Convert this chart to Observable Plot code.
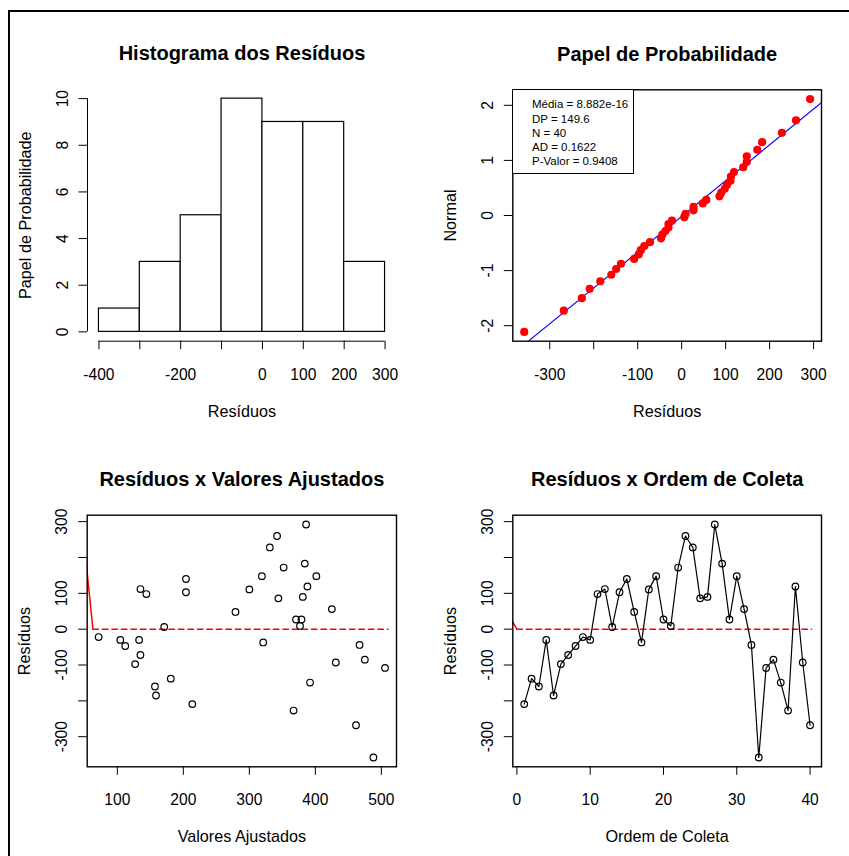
<!DOCTYPE html>
<html><head><meta charset="utf-8">
<script src="https://cdn.jsdelivr.net/npm/d3@7"></script>
<script src="https://cdn.jsdelivr.net/npm/@observablehq/plot@0.6"></script>
<style>
html,body{margin:0;padding:0;background:#fff;}
#page{position:relative;width:849px;height:856px;overflow:hidden;font-family:"Liberation Sans",Arial,sans-serif;background:#fff;}
.panel{position:absolute;}
#border{position:absolute;left:8px;top:10px;width:1000px;height:1000px;border-left:2px solid #000;border-top:2px solid #000;z-index:5;pointer-events:none;}
#legenda{position:absolute;left:512.3px;top:89.3px;width:121.4px;height:84.4px;box-sizing:border-box;border:1.3px solid #000;background:#fff;z-index:4;padding:7.2px 0 0 18.7px;font-size:11.5px;line-height:14.25px;color:#000;white-space:nowrap;}
</style></head><body>
<div id="page"><div id="border"></div></div>
<script>
// ---- data ----
const residuos = [-209,-138,-160,-30,-185,-97.5,-72,-47,-22,-30,98,112,6,103,140,48,-37,111,148,27,9,172,260,228,86,90,292,183,27,148,56,-44,-358,-108,-85,-149,-227,119,-93,-268];
const ajustados = [213.6,181,157,104.5,158.6,127,135,112,71.7,133,144,135,171,204,204,279,321,300,319,370.7,376.8,352,342,331,344,381,386,384,379,401.5,425,467,488,505.6,475,392,367,388,431,461.6];
const histBreaks = [-400,-300,-200,-100,0,100,200,300];
const histXLabels = ["-400","","-200","","0","100","200","300"];
const histYTicks = [0,2,4,6,8,10];
const histYLabels = ["0","2","4","6","8","10"];
const qqXTicks = [-300,-200,-100,0,100,200,300];
const qqXLabels = ["-300","","-100","0","100","200","300"];
const qqYTicks = [-2,-1,0,1,2];
const qqYLabels = ["-2","-1","0","1","2"];
const resYTicks = [-300,-200,-100,0,100,200,300];
const resYLabels = ["-300","","-100","0","100","","300"];
const ajXTicks = [100,200,300,400,500];
const ajXLabels = ["100","200","300","400","500"];
const ordXTicks = [0,10,20,30,40];
const ordXLabels = ["0","10","20","30","40"];
const legendaTextos = ["Média = 8.882e-16","DP = 149.6","N = 40","AD = 0.1622","P-Valor = 0.9408"];
// red reference lines (zero line with short solid lead-in)
const zeroAjust = [{x:63,y:0},{x:510,y:0}];
const inicioAjust = [{x:48,y:272},{x:63,y:0}];
const zeroOrdem = [{x:0,y:0},{x:40.2,y:0}];
const inicioOrdem = [{x:-1,y:35},{x:0,y:0}];

// ---- helpers ----
function qnorm(p){
  const a=[-3.969683028665376e+01,2.209460984245205e+02,-2.759285104469687e+02,1.383577518672690e+02,-3.066479806614716e+01,2.506628277459239e+00];
  const b=[-5.447609879822406e+01,1.615858368580409e+02,-1.556989798598866e+02,6.680131188771972e+01,-1.328068155288572e+01];
  const c=[-7.784894002430293e-03,-3.223964580411365e-01,-2.400758277161838e+00,-2.549732539343734e+00,4.374664141464968e+00,2.938163982698783e+00];
  const d=[7.784695709041462e-03,3.224671290700398e-01,2.445134137142996e+00,3.754408661907416e+00];
  const pl=0.02425, ph=1-pl; let q,r;
  if(p<pl){q=Math.sqrt(-2*Math.log(p));return (((((c[0]*q+c[1])*q+c[2])*q+c[3])*q+c[4])*q+c[5])/((((d[0]*q+d[1])*q+d[2])*q+d[3])*q+1);}
  if(p<=ph){q=p-0.5;r=q*q;return (((((a[0]*r+a[1])*r+a[2])*r+a[3])*r+a[4])*r+a[5])*q/(((((b[0]*r+b[1])*r+b[2])*r+b[3])*r+b[4])*r+1);}
  q=Math.sqrt(-2*Math.log(1-p));return -(((((c[0]*q+c[1])*q+c[2])*q+c[3])*q+c[4])*q+c[5])/((((d[0]*q+d[1])*q+d[2])*q+d[3])*q+1);
}
const pad4 = ([lo,hi]) => [lo-(hi-lo)*0.04, hi+(hi-lo)*0.04];

const n = residuos.length;
const dados = residuos.map((r,i)=>({ordem:i+1, residuo:r, ajustado:ajustados[i]}));
const ordenados = residuos.slice().sort((a,b)=>a-b);
const qq = ordenados.map((x,i)=>({x, y:qnorm((i+1-0.3)/(n+0.4))}));
const mx = d3.mean(qq,d=>d.x), my = d3.mean(qq,d=>d.y);
const slope = d3.sum(qq,d=>(d.x-mx)*(d.y-my))/d3.sum(qq,d=>(d.x-mx)**2);
const intercept = my - slope*mx;

const bins = d3.bin().domain([histBreaks[0], histBreaks.at(-1)]).thresholds(histBreaks)(residuos)
  .filter(b=>b.x0<b.x1).map(b=>({x0:b.x0,x1:b.x1,count:b.length}));

const FONT = '"Liberation Sans", Arial, sans-serif';
const page = document.getElementById("page");

function painel({left, top, width, height, margin, xDomain, yDomain, xTicks, xLabels, yTicks, yLabels, titulo, tituloX, tituloY, marcas, caixa}){
  const [mt, mr, mb, ml] = margin;
  const fs = 15.6;
  const centro = {textAnchor: "middle", lineAnchor: "middle", fill: "black"};
  const svg = Plot.plot({
    width, height, marginTop: mt, marginRight: mr, marginBottom: mb, marginLeft: ml,
    style: {background: "transparent", fontFamily: FONT, color: "black", overflow: "visible"},
    x: {domain: xDomain, label: null},
    y: {domain: yDomain, label: null},
    marks: [
      ...marcas,
      caixa ? Plot.frame({stroke: "black", strokeWidth: 1.4}) : null,
      Plot.axisX({ticks: xTicks, tickSize: 8.5, tickFormat: () => "", label: null, stroke: "black", strokeWidth: 1}),
      Plot.axisY({ticks: yTicks, tickSize: 8.5, tickFormat: () => "", label: null, stroke: "black", strokeWidth: 1}),
      Plot.text(xTicks, {x: d=>d, text: (d,i)=>xLabels[i], frameAnchor: "bottom", dy: 33.5, fontSize: fs, ...centro}),
      Plot.text(yTicks, {y: d=>d, text: (d,i)=>yLabels[i], frameAnchor: "left", dx: -25, rotate: -90, fontSize: fs, ...centro}),
      Plot.text([titulo], {text: d=>d, frameAnchor: "top", dy: -35.3, fontSize: 20, fontWeight: "bold", ...centro}),
      Plot.text([tituloX], {text: d=>d, frameAnchor: "bottom", dy: 70.5, fontSize: 16.2, ...centro}),
      Plot.text([tituloY], {text: d=>d, frameAnchor: "left", dx: -62, rotate: -90, fontSize: 16.2, ...centro})
    ]
  });
  const div = document.createElement("div");
  div.className = "panel";
  div.style.left = left + "px"; div.style.top = top + "px";
  div.appendChild(svg);
  page.appendChild(div);
}

// Panel 1: histogram
const hx = pad4([histBreaks[0], histBreaks.at(-1)]);
const hy = pad4([histYTicks[0], histYTicks.at(-1)]);
painel({
  left: 0, top: 0, width: 425, height: 428, margin: [88.8, 29, 87.3, 87],
  xDomain: hx, yDomain: hy,
  xTicks: histBreaks, xLabels: histXLabels, yTicks: histYTicks, yLabels: histYLabels,
  titulo: "Histograma dos Resíduos", tituloX: "Resíduos", tituloY: "Papel de Probabilidade",
  caixa: false,
  marcas: [
    Plot.rectY(bins, {x1: "x0", x2: "x1", y1: () => 0, y2: "count", fill: "white", stroke: "black", strokeWidth: 1.2, inset: 0}),
    Plot.ruleY([hy[0]], {y: d=>d, x1: () => histBreaks[0], x2: () => histBreaks.at(-1), stroke: "black", strokeWidth: 1}),
    Plot.ruleX([hx[0]], {x: d=>d, y1: () => histYTicks[0], y2: () => histYTicks.at(-1), stroke: "black", strokeWidth: 1})
  ]
});

// Panel 2: probability plot
const qx = pad4(d3.extent(qq, d=>d.x));
const qy = pad4(d3.extent(qq, d=>d.y));
const linhaQQ = qx.map(x => ({x, y: intercept + slope*x}));
painel({
  left: 425, top: 0, width: 424, height: 428, margin: [89.3, 28, 87.3, 87.3],
  xDomain: qx, yDomain: qy,
  xTicks: qqXTicks, xLabels: qqXLabels, yTicks: qqYTicks, yLabels: qqYLabels,
  titulo: "Papel de Probabilidade", tituloX: "Resíduos", tituloY: "Normal",
  caixa: true,
  marcas: [
    Plot.line(linhaQQ, {x: "x", y: "y", stroke: "#0000ff", strokeWidth: 1.1, clip: true}),
    Plot.dot(qq, {x: "x", y: "y", r: 4.1, fill: "#ff0000", stroke: "none"})
  ]
});
const leg = document.createElement("div");
leg.id = "legenda";
leg.innerHTML = legendaTextos.map(t => `<div>${t}</div>`).join("");
page.appendChild(leg);

// Panel 3: residuals vs fitted
const ry = pad4(d3.extent(residuos));
const ax = pad4(d3.extent(ajustados));
painel({
  left: 0, top: 428, width: 425, height: 428, margin: [86.7, 29, 89.7, 86.7],
  xDomain: ax, yDomain: ry,
  xTicks: ajXTicks, xLabels: ajXLabels, yTicks: resYTicks, yLabels: resYLabels,
  titulo: "Resíduos x Valores Ajustados", tituloX: "Valores Ajustados", tituloY: "Resíduos",
  caixa: true,
  marcas: [
    Plot.line(inicioAjust, {x: "x", y: "y", stroke: "#ff0000", strokeWidth: 1.5, clip: true}),
    Plot.line(zeroAjust, {x: "x", y: "y", stroke: "#ff0000", strokeWidth: 1.5, strokeDasharray: "5.5,4", clip: true}),
    Plot.dot(dados, {x: "ajustado", y: "residuo", r: 3.3, stroke: "black", strokeWidth: 1.2, fill: "none"})
  ]
});

// Panel 4: residuals vs order
const ox = pad4(d3.extent(dados, d=>d.ordem));
painel({
  left: 425, top: 428, width: 424, height: 428, margin: [86.7, 28, 89.7, 87.3],
  xDomain: ox, yDomain: ry,
  xTicks: ordXTicks, xLabels: ordXLabels, yTicks: resYTicks, yLabels: resYLabels,
  titulo: "Resíduos x Ordem de Coleta", tituloX: "Ordem de Coleta", tituloY: "Resíduos",
  caixa: true,
  marcas: [
    Plot.line(inicioOrdem, {x: "x", y: "y", stroke: "#ff0000", strokeWidth: 1.5, clip: true}),
    Plot.line(zeroOrdem, {x: "x", y: "y", stroke: "#ff0000", strokeWidth: 1.5, strokeDasharray: "5.5,4", clip: true}),
    Plot.line(dados, {x: "ordem", y: "residuo", stroke: "black", strokeWidth: 1.2}),
    Plot.dot(dados, {x: "ordem", y: "residuo", r: 3.3, stroke: "black", strokeWidth: 1.2, fill: "none"})
  ]
});
</script>
</body></html>
